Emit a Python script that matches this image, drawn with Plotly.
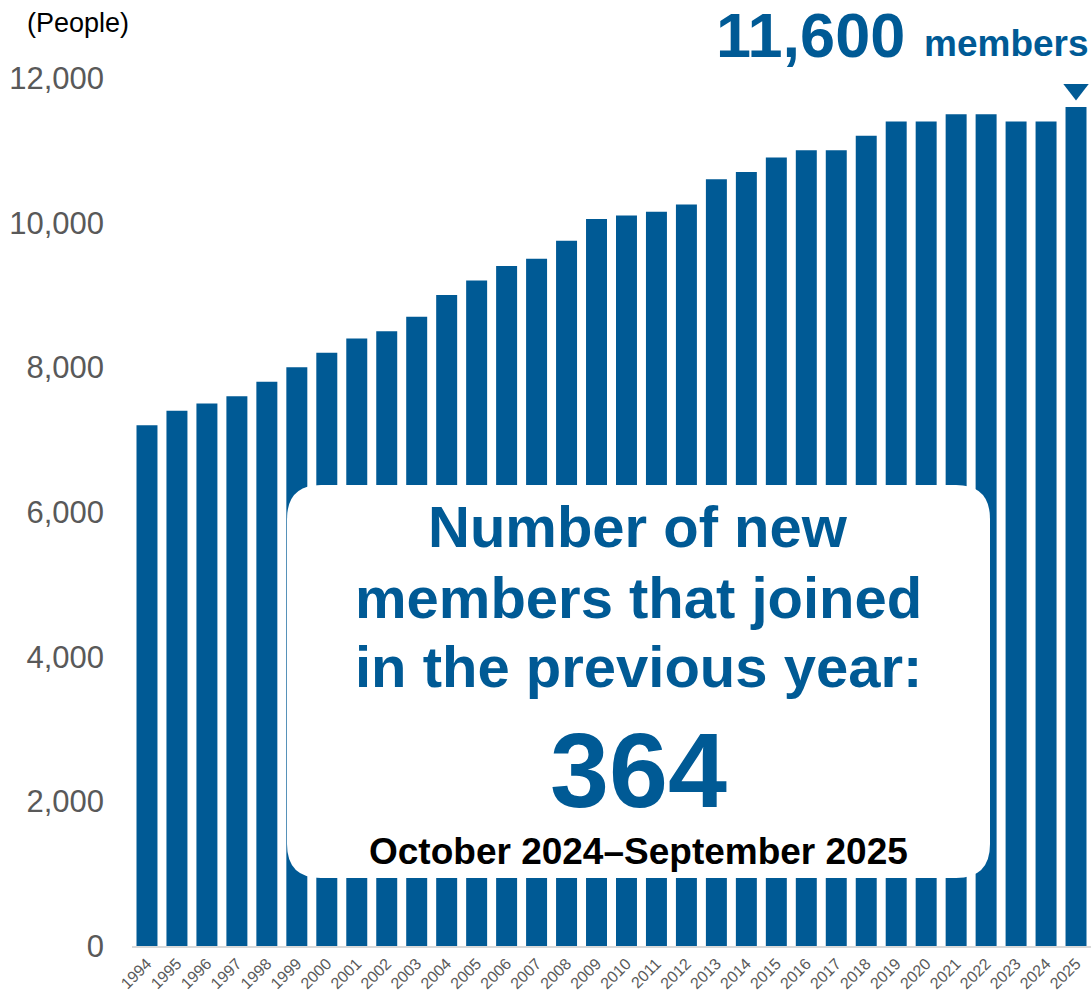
import plotly.graph_objects as go

# Membership count at each year
years = [str(y) for y in range(1994, 2026)]
members = [7200, 7400, 7500, 7600, 7800, 8000, 8200, 8400, 8500, 8700,
           9000, 9200, 9400, 9500, 9750, 10050, 10100, 10150, 10250, 10600,
           10700, 10900, 11000, 11000, 11200, 11400, 11400, 11500, 11500, 11400,
           11400, 11600]
y_ticks = [0, 2000, 4000, 6000, 8000, 10000, 12000]

headline_value = "11,600"
headline_unit = "members"
box_lines = ["Number of new", "members that joined", "in the previous year:"]
new_members = "364"
period = "October 2024\u2013September 2025"

BLUE = "#005A95"
GRAY = "#595959"
FONT = "Liberation Sans, Arial, sans-serif"

W, H = 1091, 991
L, R, T, B = 132, 0, 78, 45
PW, PH = W - L - R, H - T - B


def px(x):
    return (x - L) / PW


def py(y):
    return (H - B - y) / PH


fig = go.Figure()
fig.add_trace(go.Bar(
    x=years, y=members, marker=dict(color=BLUE, line=dict(width=0)),
    hoverinfo="x+y",
))
# pointer above the latest bar
fig.add_trace(go.Scatter(
    x=[years[-1]], y=[members[-1] + 240], mode="markers",
    marker=dict(symbol="triangle-down", size=22, color=BLUE),
    cliponaxis=False, hoverinfo="skip",
))

# rounded white panel
x0, x1, y0, y1 = px(287), px(990), py(878), py(485)
rx, ry = 34 / PW, 34 / PH
path = (f"M {x0 + rx},{y1} L {x1 - rx},{y1} Q {x1},{y1} {x1},{y1 - ry} "
        f"L {x1},{y0 + ry} Q {x1},{y0} {x1 - rx},{y0} "
        f"L {x0 + rx},{y0} Q {x0},{y0} {x0},{y0 + ry} "
        f"L {x0},{y1 - ry} Q {x0},{y1} {x0 + rx},{y1} Z")
fig.add_shape(type="path", path=path, xref="paper", yref="paper",
              fillcolor="white", line=dict(width=0), layer="above")

ann = []
cx = px(638)
for text, yc in zip(box_lines, [526, 597, 666]):
    ann.append(dict(text=f"<b>{text}</b>", x=cx, y=py(yc), xref="paper", yref="paper",
                    xanchor="center", yanchor="middle", showarrow=False,
                    font=dict(size=58, color=BLUE, family=FONT)))
ann.append(dict(text=f"<b>{new_members}</b>", x=cx, y=py(770), xref="paper", yref="paper",
                xanchor="center", yanchor="middle", showarrow=False,
                font=dict(size=106, color=BLUE, family=FONT)))
ann.append(dict(text=f"<b>{period}</b>", x=cx, y=py(851), xref="paper", yref="paper",
                xanchor="center", yanchor="middle", showarrow=False,
                font=dict(size=37, color="black", family=FONT)))
ann.append(dict(text=f"<b>{headline_value}</b>", x=px(714), y=py(35), xref="paper", yref="paper",
                xanchor="left", yanchor="middle", showarrow=False,
                font=dict(size=63, color=BLUE, family=FONT)))
ann.append(dict(text=f"<b>{headline_unit}</b>", x=px(922), y=py(43), xref="paper", yref="paper",
                xanchor="left", yanchor="middle", showarrow=False,
                font=dict(size=37, color=BLUE, family=FONT)))
ann.append(dict(text="(People)", x=px(25), y=py(23), xref="paper", yref="paper",
                xanchor="left", yanchor="middle", showarrow=False,
                font=dict(size=27, color="black", family=FONT)))

fig.update_layout(
    width=W, height=H,
    margin=dict(l=L, r=R, t=T, b=B),
    paper_bgcolor="white", plot_bgcolor="white",
    showlegend=False, bargap=0.3,
    annotations=ann,
    font=dict(family=FONT),
)
fig.update_xaxes(
    type="category", range=[-0.5, len(years) - 0.5], automargin=False,
    showline=True, linecolor="#D9D9D9", linewidth=2,
    showgrid=False, ticks="", tickangle=-45,
    tickfont=dict(size=16, color=GRAY, family=FONT),
)
fig.update_yaxes(
    range=[0, 12000], tickvals=y_ticks, tickformat=",", showgrid=False,
    zeroline=False, showline=False, ticks="", ticklabelstandoff=27,
    automargin=False,
    tickfont=dict(size=31, color=GRAY, family=FONT),
)

fig.write_html("out.html")
